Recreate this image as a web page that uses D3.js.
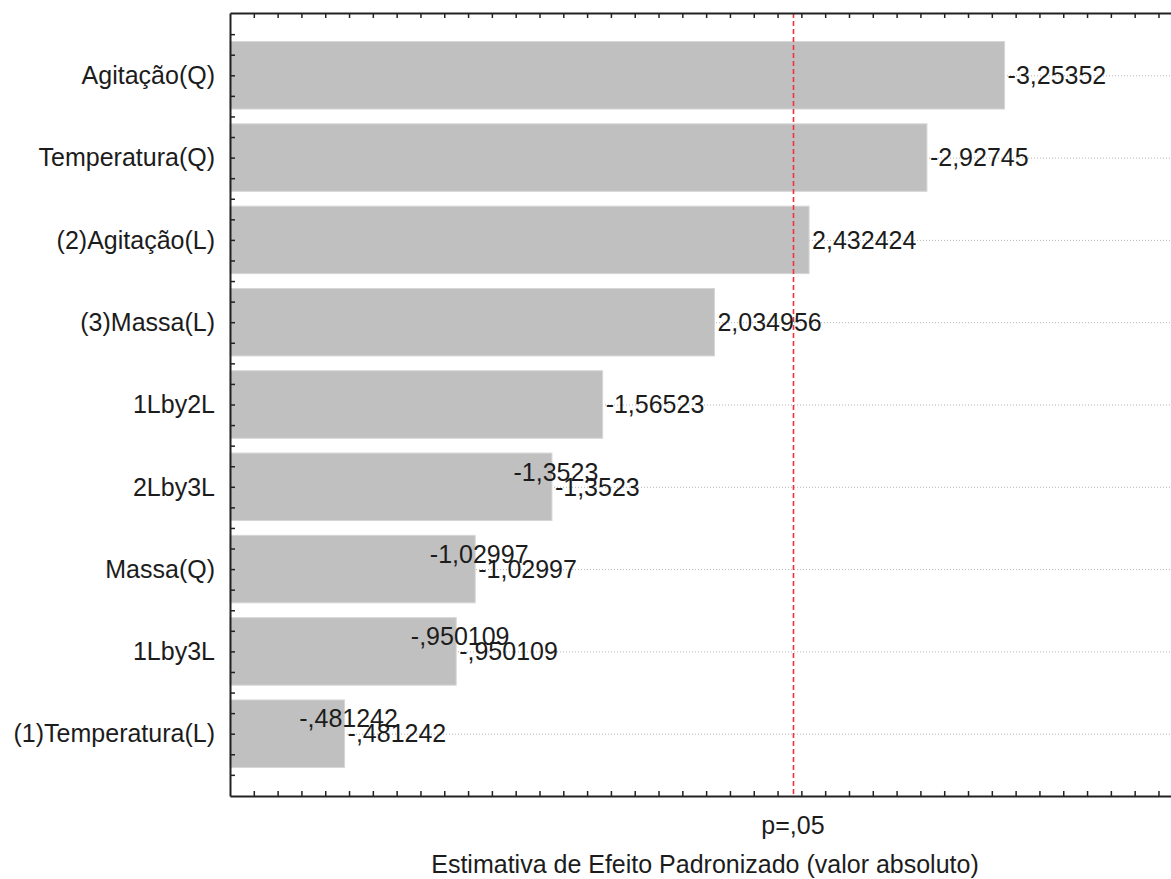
<!DOCTYPE html>
<html>
<head>
<meta charset="utf-8">
<script src="https://cdn.jsdelivr.net/npm/d3@7"></script>
<style>
  html, body { margin: 0; padding: 0; background: #fff; }
  svg { display: block; }
  text { font-family: "Liberation Sans", Arial, sans-serif; fill: #1c1c1c; }
</style>
</head>
<body>
<svg id="chart" width="1171" height="879"></svg>
<script>
// Pareto chart of standardized effects
const effects = ["Agitação(Q)", "Temperatura(Q)", "(2)Agitação(L)", "(3)Massa(L)",
                 "1Lby2L", "2Lby3L", "Massa(Q)", "1Lby3L", "(1)Temperatura(L)"];
const effectValues = [-3.25352, -2.92745, 2.432424, 2.034956,
                      -1.56523, -1.3523, -1.02997, -0.950109, -0.481242];
const effectLabels = ["-3,25352", "-2,92745", "2,432424", "2,034956",
                      "-1,56523", "-1,3523", "-1,02997", "-,950109", "-,481242"];
// effects whose value label is printed twice (overlapping copies)
const repeatedLabels = ["2Lby3L", "Massa(Q)", "1Lby3L", "(1)Temperatura(L)"];
const pCritical = 2.364624;
const pLabel = "p=,05";
const xTitle = "Estimativa de Efeito Padronizado (valor absoluto)";

const svg = d3.select("#chart");
const plotLeft = 230, plotTop = 13, plotBottom = 796;
const pxPerUnit = 238.07;
const fontSize = 25;

const x = d3.scaleLinear().domain([0, 4]).range([plotLeft, plotLeft + 4 * pxPerUnit]);
const y = d3.scaleBand().domain(effects).range([plotTop, plotBottom])
  .paddingInner(0.18).paddingOuter(0.347);

const rows = effects.map((e, i) => ({
  name: e, value: Math.abs(effectValues[i]), label: effectLabels[i],
  twice: repeatedLabels.includes(e)
}));

// dotted guide lines at every bar centre
svg.append("g").selectAll("line").data(rows).join("line")
  .attr("x1", plotLeft).attr("x2", 1171)
  .attr("y1", d => y(d.name) + y.bandwidth() / 2 + 0.5)
  .attr("y2", d => y(d.name) + y.bandwidth() / 2 + 0.5)
  .attr("stroke", "#b4b4b4").attr("stroke-width", 1)
  .attr("stroke-dasharray", "1,2");

// bars
svg.append("g").selectAll("rect").data(rows).join("rect")
  .attr("x", x(0))
  .attr("y", d => y(d.name))
  .attr("width", d => x(d.value) - x(0))
  .attr("height", y.bandwidth())
  .attr("fill", "#c0c0c0")
  .attr("stroke", "#d6d6d6").attr("stroke-width", 1);

// significance line
const px = Math.round(x(pCritical)) + 0.5;
svg.append("line")
  .attr("x1", px).attr("x2", px)
  .attr("y1", plotTop).attr("y2", plotBottom)
  .attr("stroke", "#f0303a").attr("stroke-width", 1.6)
  .attr("stroke-dasharray", "5,3");

// value labels
const lbl = svg.append("g").attr("font-size", fontSize);
lbl.selectAll("text.v").data(rows).join("text").attr("class", "v")
  .attr("x", d => x(d.value) + 3)
  .attr("y", d => y(d.name) + y.bandwidth() / 2)
  .attr("dy", "0.35em")
  .text(d => d.label);
lbl.selectAll("text.r").data(rows.filter(d => d.twice)).join("text").attr("class", "r")
  .attr("x", d => x(d.value) + 4)
  .attr("y", d => y(d.name) + y.bandwidth() / 2 - 15)
  .attr("dy", "0.35em")
  .attr("text-anchor", "middle")
  .text(d => d.label);

// axes with inward ticks
const tickVals = d3.range(1, 40).map(i => i / 10);
const bottomAxis = d3.axisBottom(x).tickValues(tickVals).tickFormat("")
  .tickSizeOuter(0).tickSizeInner(-5);
const topAxis = d3.axisTop(x).tickValues(tickVals).tickFormat("")
  .tickSizeOuter(0).tickSizeInner(-5);

function styleAxis(g) {
  g.select(".domain").attr("stroke", "#222").attr("stroke-width", 2);
  g.selectAll(".tick line").attr("stroke", "#222").attr("stroke-width", 1.5);
}
svg.append("g").attr("transform", `translate(0,${plotBottom})`).call(bottomAxis).call(styleAxis);
svg.append("g").attr("transform", `translate(0,${plotTop})`).call(topAxis).call(styleAxis);

// left axis: ticks at quarter-band positions
const yTicks = [];
effects.forEach(e => {
  const c = y(e) + y.bandwidth() / 2;
  [-2, -1, 0, 1].forEach(k => yTicks.push(c + k * y.step() / 4));
});
yTicks.push(y(effects[effects.length - 1]) + y.bandwidth() / 2 + 2 * y.step() / 4);
const yTickScale = d3.scaleIdentity().domain([plotTop, plotBottom]);
const leftAxis = d3.axisLeft(yTickScale)
  .tickValues(yTicks.filter(v => v > plotTop + 5 && v < plotBottom - 5))
  .tickFormat("").tickSizeOuter(0).tickSizeInner(-5);
svg.append("g").attr("transform", `translate(${plotLeft},0)`).call(leftAxis).call(styleAxis);

// category labels
svg.append("g").attr("font-size", fontSize).selectAll("text").data(effects).join("text")
  .attr("x", 215)
  .attr("y", d => y(d) + y.bandwidth() / 2)
  .attr("dy", "0.35em")
  .attr("text-anchor", "end")
  .text(d => d);

// axis annotations
svg.append("text").attr("x", x(pCritical)).attr("y", 834)
  .attr("text-anchor", "middle").attr("font-size", fontSize).text(pLabel);
svg.append("text").attr("x", 705).attr("y", 873)
  .attr("text-anchor", "middle").attr("font-size", fontSize).text(xTitle);
</script>
</body>
</html>
